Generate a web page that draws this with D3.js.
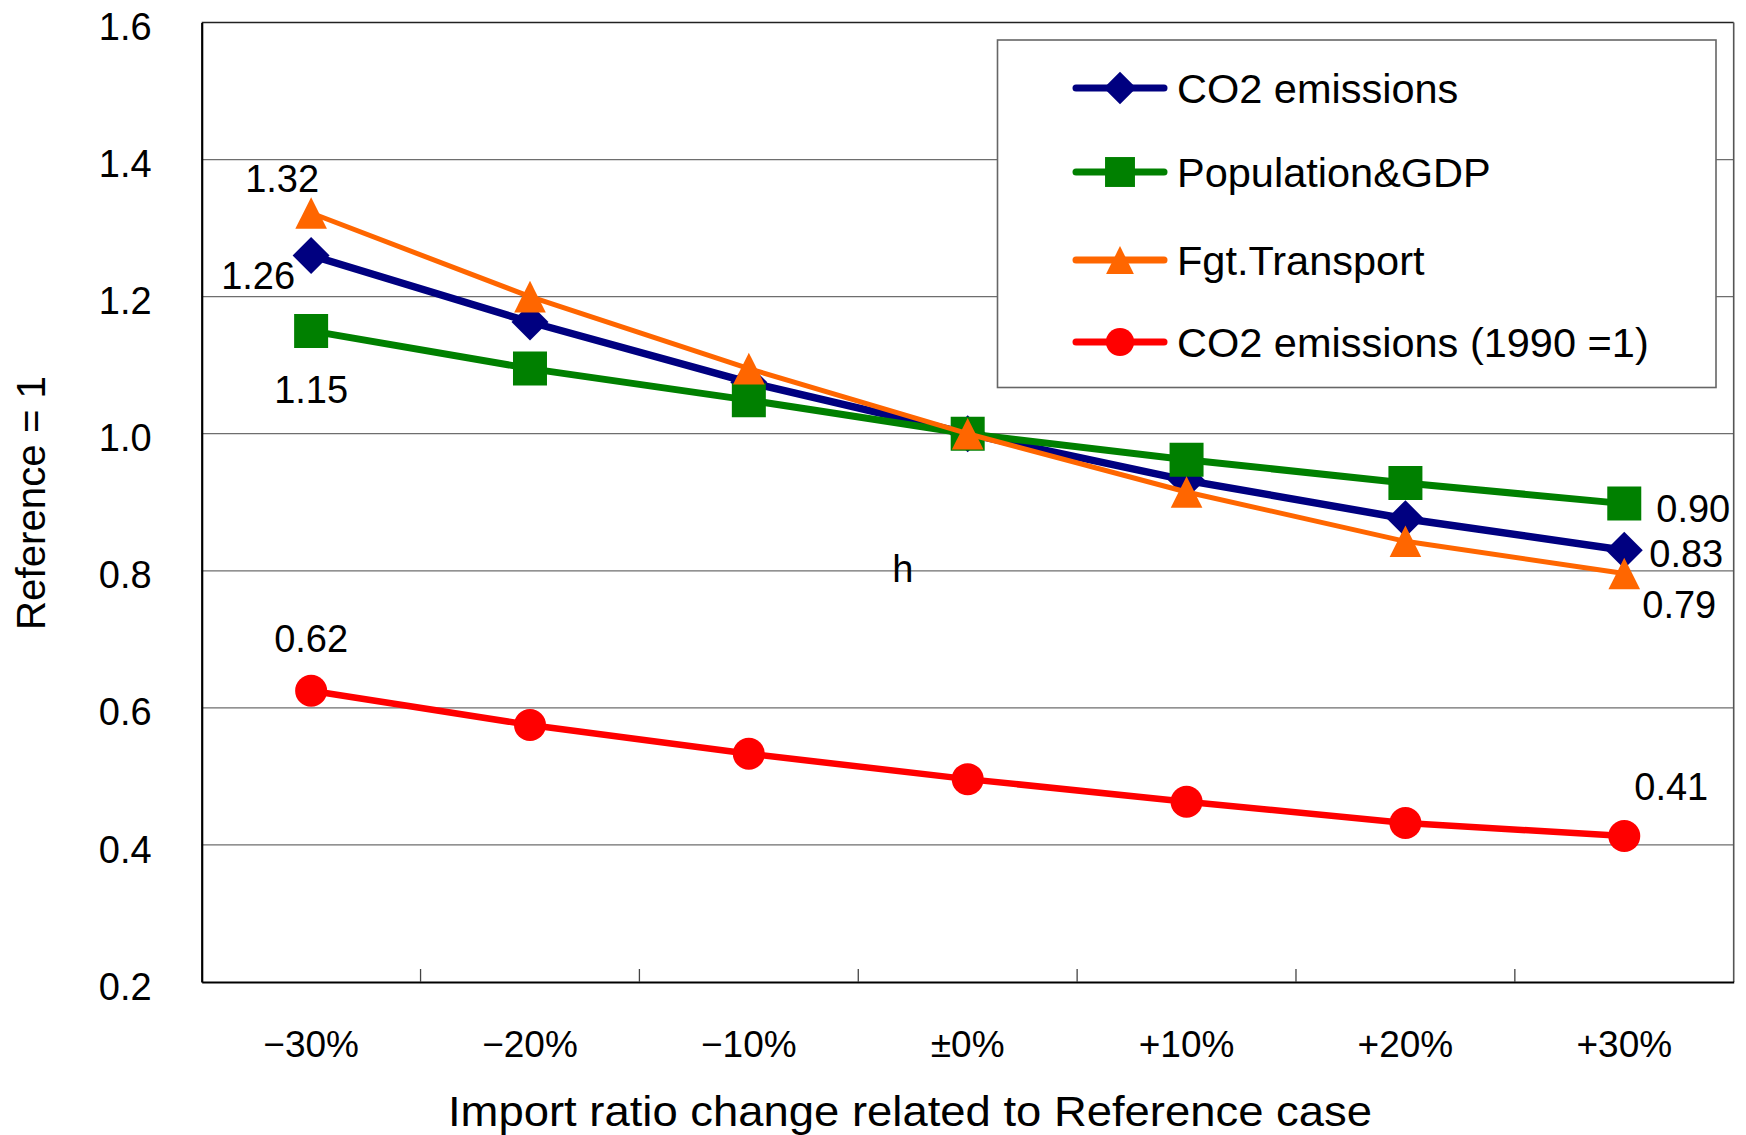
<!DOCTYPE html>
<html>
<head>
<meta charset="utf-8">
<script src="https://cdn.jsdelivr.net/npm/d3@7"></script>
<style>
  html, body { margin: 0; padding: 0; background: #fff; }
  svg { display: block; }
  text { font-family: "Liberation Sans", Arial, sans-serif; fill: #000; }
</style>
</head>
<body>
<svg id="chart" width="1746" height="1135"></svg>
<script>
// ---------- DATA ----------
const categories = ["\u221230%", "\u221220%", "\u221210%", "\u00b10%", "+10%", "+20%", "+30%"];
const yTicks = [0.2, 0.4, 0.6, 0.8, 1.0, 1.2, 1.4, 1.6];
const seriesNames = ["CO2 emissions", "Population&GDP", "Fgt.Transport", "CO2 emissions (1990 =1)"];
const co2Values = [1.26, 1.163, 1.075, 1.0, 0.932, 0.876, 0.83];
const popGdpValues = [1.15, 1.095, 1.049, 1.0, 0.962, 0.928, 0.898];
const fgtValues = [1.322, 1.20, 1.095, 1.0, 0.915, 0.843, 0.796];
const co2_1990Values = [0.625, 0.575, 0.533, 0.496, 0.463, 0.432, 0.413];
const dataLabels = [
  { series: 2, index: 0, text: "1.32" },
  { series: 0, index: 0, text: "1.26" },
  { series: 1, index: 0, text: "1.15" },
  { series: 3, index: 0, text: "0.62" },
  { series: 1, index: 6, text: "0.90" },
  { series: 0, index: 6, text: "0.83" },
  { series: 2, index: 6, text: "0.79" },
  { series: 3, index: 6, text: "0.41" }
];
const xTitle = "Import ratio change related to Reference case";
const yTitle = "Reference = 1";
const strayText = "h";

// ---------- LAYOUT ----------
const svg = d3.select("#chart");
const L = 201.7, R = 1733.7, T = 22.5, B = 982;
const x = d3.scaleBand().domain(categories).range([L, R]).padding(0);
const y = d3.scaleLinear().domain([0.2, 1.6]).range([B, T]);

const series = [
  { name: seriesNames[0], values: co2Values, color: "#000080", width: 7.5, marker: "diamond" },
  { name: seriesNames[1], values: popGdpValues, color: "#008000", width: 7, marker: "square" },
  { name: seriesNames[2], values: fgtValues, color: "#FF6600", width: 5, marker: "triangle" },
  { name: seriesNames[3], values: co2_1990Values, color: "#FF0000", width: 6.5, marker: "circle" }
];

function markerPath(type, s) {
  const p = d3.path();
  if (type === "diamond") {
    const h = 18.5 * s;
    p.moveTo(0, -h); p.lineTo(h, 0); p.lineTo(0, h); p.lineTo(-h, 0); p.closePath();
  } else if (type === "square") {
    const h = 17 * s;
    p.rect(-h, -h, 2 * h, 2 * h);
  } else if (type === "triangle") {
    const h = 15.8 * s;
    p.moveTo(0, -h); p.lineTo(h, h); p.lineTo(-h, h); p.closePath();
  } else {
    p.arc(0, 0, 16 * s, 0, 2 * Math.PI);
  }
  return p.toString();
}

// gridlines
svg.append("g").selectAll("line").data(yTicks.filter(v => v > 0.2 && v < 1.6)).join("line")
  .attr("x1", L).attr("x2", R)
  .attr("y1", d => y(d)).attr("y2", d => y(d))
  .attr("stroke", "#6e6e6e").attr("stroke-width", 1.3);

// plot frame
svg.append("line").attr("x1", L).attr("x2", R).attr("y1", T).attr("y2", T)
  .attr("stroke", "#222").attr("stroke-width", 1.6);
svg.append("line").attr("x1", R).attr("x2", R).attr("y1", T).attr("y2", B)
  .attr("stroke", "#555").attr("stroke-width", 1.6);

// y axis
const yAxis = d3.axisLeft(y).tickValues(yTicks).tickFormat(d3.format(".1f")).tickSize(0).tickPadding(50);
const yg = svg.append("g").attr("transform", `translate(${L},0)`).call(yAxis);
yg.select(".domain").attr("stroke", "#000").attr("stroke-width", 2.2);
yg.selectAll(".tick text").attr("font-family", "Liberation Sans, Arial, sans-serif")
  .attr("font-size", 38).attr("fill", "#000").attr("dy", "0.45em");

// x axis
const xAxis = d3.axisBottom(x).tickSize(0).tickPadding(48);
const xg = svg.append("g").attr("transform", `translate(0,${B})`).call(xAxis);
xg.select(".domain").attr("stroke", "#000").attr("stroke-width", 2.2);
xg.selectAll(".tick text").attr("font-family", "Liberation Sans, Arial, sans-serif")
  .attr("font-size", 37).attr("fill", "#000").attr("dy", "0.72em");
// inward tick marks at category boundaries
svg.append("g").selectAll("line").data(categories.slice(1)).join("line")
  .attr("x1", d => x(d)).attr("x2", d => x(d))
  .attr("y1", B).attr("y2", B - 13)
  .attr("stroke", "#444").attr("stroke-width", 1.3);

// series
const line = d3.line().x((d, i) => x(categories[i]) + x.bandwidth() / 2).y(d => y(d));
series.forEach(s => {
  const g = svg.append("g");
  g.append("path").attr("d", line(s.values)).attr("fill", "none")
    .attr("stroke", s.color).attr("stroke-width", s.width).attr("stroke-linejoin", "round");
  g.selectAll("path.m").data(s.values).join("path").attr("class", "m")
    .attr("d", markerPath(s.marker, 1))
    .attr("transform", (d, i) => `translate(${x(categories[i]) + x.bandwidth() / 2},${y(d)})`)
    .attr("fill", s.color);
});

// data labels
const labelOffsets = {
  "1.32": [-29, -35], "1.26": [-53, 20], "1.15": [0, 58], "0.62": [0, -52],
  "0.90": [69, 5], "0.83": [62, 3], "0.79": [55, 31], "0.41": [47, -50]
};
svg.append("g").selectAll("text").data(dataLabels).join("text")
  .attr("x", d => x(categories[d.index]) + x.bandwidth() / 2 + labelOffsets[d.text][0])
  .attr("y", d => y(series[d.series].values[d.index]) + labelOffsets[d.text][1])
  .attr("text-anchor", "middle").attr("dy", "0.36em")
  .attr("font-size", 38).text(d => d.text);

// stray text
svg.append("text").attr("x", x(categories[3]) + x.bandwidth() / 2 - 65).attr("y", y(0.8) + 11)
  .attr("text-anchor", "middle").attr("font-size", 38).text(strayText);

// legend
const lg = svg.append("g");
lg.append("rect").attr("x", 997.5).attr("y", 40).attr("width", 718.5).attr("height", 347.5)
  .attr("fill", "#fff").attr("stroke", "#666").attr("stroke-width", 1.6);
const legY = [88, 172, 260, 342];
series.forEach((s, i) => {
  lg.append("line").attr("x1", 1076).attr("x2", 1164).attr("y1", legY[i]).attr("y2", legY[i])
    .attr("stroke", s.color).attr("stroke-width", 7).attr("stroke-linecap", "round");
  lg.append("path").attr("d", markerPath(s.marker, 0.88))
    .attr("transform", `translate(1120,${legY[i]})`).attr("fill", s.color);
  lg.append("text").attr("x", 1177).attr("y", legY[i]).attr("dy", "0.36em")
    .attr("font-size", 41.5).text(s.name);
});

// axis titles
svg.append("text").attr("x", 910).attr("y", 1111).attr("dy", "0.36em")
  .attr("text-anchor", "middle").attr("font-size", 42)
  .attr("textLength", 924).attr("lengthAdjust", "spacingAndGlyphs").text(xTitle);
svg.append("text").attr("transform", "translate(31,503) rotate(-90)").attr("dy", "0.36em")
  .attr("text-anchor", "middle").attr("font-size", 40)
  .attr("textLength", 254).attr("lengthAdjust", "spacingAndGlyphs").text(yTitle);
</script>
</body>
</html>
